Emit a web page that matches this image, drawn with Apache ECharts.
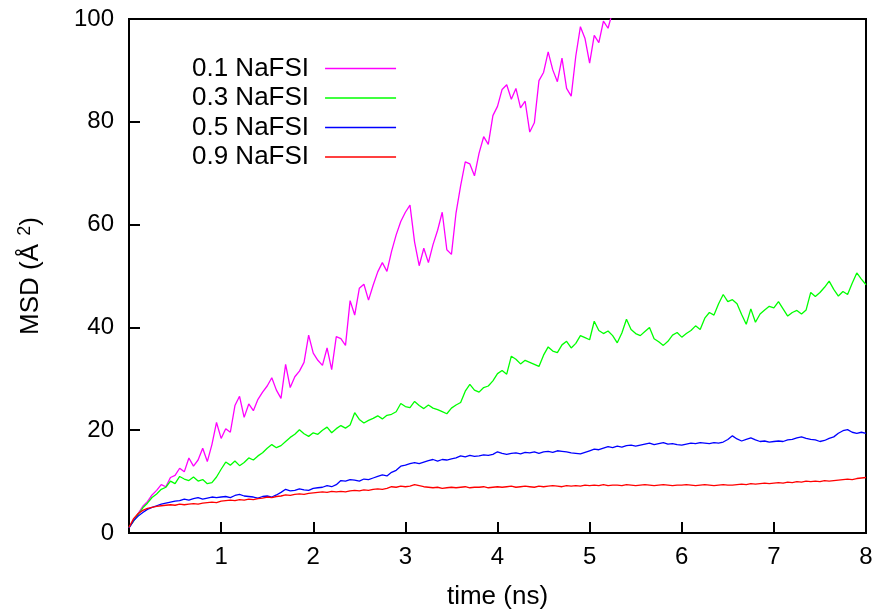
<!DOCTYPE html>
<html>
<head>
<meta charset="utf-8">
<script src="https://cdn.jsdelivr.net/npm/echarts@6/dist/echarts.min.js"></script>
<style>
  html, body { margin: 0; padding: 0; background: #fff; }
  #chart { width: 877px; height: 612px; }
</style>
</head>
<body>
<div id="chart"></div>
<script>
// time samples (ns), one row per ns
const times = [
  0, 0.05, 0.1, 0.15, 0.2, 0.25, 0.3, 0.35, 0.4, 0.45, 0.5, 0.55, 0.6, 0.65, 0.7, 0.75, 0.8, 0.85, 0.9, 0.95,
  1, 1.05, 1.1, 1.15, 1.2, 1.25, 1.3, 1.35, 1.4, 1.45, 1.5, 1.55, 1.6, 1.65, 1.7, 1.75, 1.8, 1.85, 1.9, 1.95,
  2, 2.05, 2.1, 2.15, 2.2, 2.25, 2.3, 2.35, 2.4, 2.45, 2.5, 2.55, 2.6, 2.65, 2.7, 2.75, 2.8, 2.85, 2.9, 2.95,
  3, 3.05, 3.1, 3.15, 3.2, 3.25, 3.3, 3.35, 3.4, 3.45, 3.5, 3.55, 3.6, 3.65, 3.7, 3.75, 3.8, 3.85, 3.9, 3.95,
  4, 4.05, 4.1, 4.15, 4.2, 4.25, 4.3, 4.35, 4.4, 4.45, 4.5, 4.55, 4.6, 4.65, 4.7, 4.75, 4.8, 4.85, 4.9, 4.95,
  5, 5.05, 5.1, 5.15, 5.2, 5.25, 5.3, 5.35, 5.4, 5.45, 5.5, 5.55, 5.6, 5.65, 5.7, 5.75, 5.8, 5.85, 5.9, 5.95,
  6, 6.05, 6.1, 6.15, 6.2, 6.25, 6.3, 6.35, 6.4, 6.45, 6.5, 6.55, 6.6, 6.65, 6.7, 6.75, 6.8, 6.85, 6.9, 6.95,
  7, 7.05, 7.1, 7.15, 7.2, 7.25, 7.3, 7.35, 7.4, 7.45, 7.5, 7.55, 7.6, 7.65, 7.7, 7.75, 7.8, 7.85, 7.9, 7.95,
  8
];

// MSD (A^2)
const msd01 = [
  1.0, 2.4, 3.8, 5.2, 6.1, 7.4, 8.3, 9.4, 9.0, 10.8, 11.2, 12.6, 11.9, 14.6, 13.0, 14.2, 16.5, 13.9, 17.2, 21.5,
  18.4, 20.3, 19.6, 24.8, 26.6, 22.5, 25.1, 23.8, 26.0, 27.4, 28.6, 30.2, 27.8, 26.2, 32.8, 28.3, 30.4, 31.5, 33.2, 38.5,
  35.0, 33.6, 32.6, 36.0, 31.8, 38.2, 37.8, 36.5, 45.2, 42.4, 47.6, 48.4, 45.3, 48.2, 50.8, 52.6, 50.9, 54.8, 58.0, 60.6,
  62.4, 63.8, 56.6, 52.0, 55.4, 52.6, 56.1, 58.9, 62.4, 55.1, 54.2, 62.3, 67.6, 72.2, 71.8, 69.5, 73.9, 77.1, 75.6, 81.2,
  83.0, 86.3, 87.2, 84.4, 86.5, 82.7, 84.0, 78.0, 79.8, 88.0, 89.6, 93.6, 90.1, 87.8, 92.4, 86.5, 85.0, 92.8, 98.5, 96.2,
  91.4, 96.8, 95.4, 99.6, 98.2, 101.5, 103.4, 106.0
];
const msd03 = [
  1.1, 2.3, 3.6, 4.9, 5.8, 6.9, 7.6, 8.5, 8.9, 10.1, 9.6, 11.0, 10.5, 10.2, 10.9, 10.1, 10.4, 9.6, 9.8, 10.9,
  12.4, 13.8, 13.2, 14.0, 13.1, 13.7, 14.6, 14.2, 15.0, 15.6, 16.5, 17.2, 16.6, 17.0, 17.8, 18.6, 19.2, 20.1, 19.3, 18.8,
  19.5, 19.2, 20.0, 20.6, 19.5, 20.3, 20.9, 20.4, 21.0, 23.4, 22.1, 21.4, 21.9, 22.3, 22.8, 22.2, 22.9, 23.1, 23.6, 25.2,
  24.6, 24.4, 25.6, 24.8, 24.2, 24.9, 24.3, 24.0, 23.6, 23.2, 24.3, 24.9, 25.4, 27.6, 28.9, 27.8, 27.4, 28.3, 28.6, 29.6,
  31.0, 31.6, 30.9, 34.4, 33.8, 32.9, 33.6, 33.2, 32.8, 32.4, 34.6, 36.2, 35.4, 35.1, 36.6, 37.3, 36.0, 36.9, 38.4, 38.0,
  37.6, 41.2, 39.4, 38.8, 39.3, 38.4, 37.0, 38.9, 41.6, 39.6, 38.8, 38.4, 39.2, 40.0, 37.8, 37.2, 36.5, 37.3, 38.5, 39.0,
  38.1, 38.8, 39.4, 40.3, 39.6, 41.8, 42.9, 42.4, 44.6, 46.4, 45.0, 45.4, 44.6, 42.5, 40.6, 43.6, 41.0, 42.6, 43.4, 44.1,
  43.8, 45.0, 43.6, 42.2, 42.9, 43.3, 42.6, 43.4, 46.8, 46.0, 46.8, 47.8, 49.0, 47.4, 46.1, 47.0, 46.4, 48.6, 50.6, 49.4,
  48.3
];
const msd05 = [
  1.0, 2.4, 3.3, 4.0, 4.6, 5.0, 5.3, 5.6, 5.8, 6.0, 6.2, 6.3, 6.6, 6.4, 6.7, 6.9, 6.6, 6.8, 7.0, 6.9,
  7.0, 7.1, 6.9, 7.3, 7.5, 7.2, 7.1, 7.0, 6.8, 7.1, 7.2, 7.0, 7.4, 7.9, 8.5, 8.2, 8.3, 8.6, 8.4, 8.3,
  8.7, 8.8, 8.9, 9.2, 9.0, 9.4, 10.2, 10.1, 10.4, 10.3, 10.1, 10.5, 10.4, 10.7, 11.0, 11.3, 11.1, 11.8, 12.2, 13.0,
  13.2, 13.5, 13.7, 13.5, 13.8, 14.1, 14.3, 14.0, 14.3, 14.2, 14.4, 14.6, 15.0, 14.8, 15.1, 14.9, 15.0, 15.2, 15.1, 15.3,
  15.8, 15.5, 15.3, 15.5, 15.6, 15.4, 15.7, 15.6, 15.8, 15.5, 15.8, 15.9, 15.7, 16.0, 15.9, 15.8, 15.6, 15.5, 15.4, 15.7,
  16.0, 16.3, 16.2, 16.5, 16.8, 16.6, 16.9, 16.7, 17.0, 17.1, 16.9, 17.1, 17.3, 17.5, 17.2, 17.4, 17.6, 17.3, 17.4, 17.2,
  17.1, 17.3, 17.5, 17.4, 17.6, 17.5, 17.4, 17.6, 17.5, 17.7, 18.2, 18.9, 18.3, 17.9, 18.2, 18.5, 18.1, 17.8, 17.9, 17.7,
  17.8, 17.9, 17.8, 18.1, 18.2, 18.5, 18.7, 18.4, 18.2, 18.1, 17.8, 18.0, 18.4, 18.7, 19.4, 19.9, 20.1, 19.6, 19.4, 19.6,
  19.4
];
const msd09 = [
  1.1, 2.8, 3.8, 4.4, 4.8, 5.0, 5.2, 5.3, 5.4, 5.5, 5.4, 5.6, 5.5, 5.6, 5.7, 5.6, 5.8, 5.9, 6.0, 5.9,
  6.2, 6.3, 6.4, 6.3, 6.5, 6.4, 6.6, 6.5, 6.7, 6.8, 7.0, 6.9, 7.1, 7.2, 7.4, 7.3, 7.5, 7.6, 7.5, 7.7,
  7.8, 7.9, 8.0, 7.9, 8.1, 8.0, 8.1, 8.0, 8.2, 8.3, 8.2, 8.4, 8.3, 8.5, 8.6, 8.5, 8.7, 9.0, 8.9, 9.1,
  9.0, 9.1, 9.4, 9.2, 9.0, 8.9, 8.8, 8.9, 8.7, 8.8, 8.9, 8.8, 8.9, 9.0, 8.8, 8.9, 8.9, 9.0, 8.8, 8.9,
  9.0, 8.9, 9.0, 9.1, 8.9, 9.0, 9.1, 9.0, 8.9, 9.1, 9.0, 9.1, 9.2, 9.1, 9.0, 9.2, 9.1, 9.2, 9.1, 9.3,
  9.2, 9.3, 9.2, 9.4, 9.2, 9.3, 9.3, 9.2, 9.4, 9.3, 9.2, 9.3, 9.4, 9.3, 9.2, 9.3, 9.4, 9.3, 9.2, 9.3,
  9.3, 9.4, 9.3, 9.2, 9.3, 9.4, 9.3, 9.2, 9.3, 9.4, 9.3, 9.3, 9.4, 9.5, 9.4, 9.6, 9.5, 9.6, 9.7, 9.6,
  9.7, 9.8, 9.7, 9.9, 9.8, 10.0, 9.9, 10.1, 10.0, 10.1, 10.0, 10.2, 10.1, 10.2, 10.3, 10.4, 10.5, 10.4, 10.6, 10.7,
  10.8
];

const names = ['0.1 NaFSI', '0.3 NaFSI', '0.5 NaFSI', '0.9 NaFSI'];
const colors = ['#ff00ff', '#00ff00', '#0000ff', '#ff0000'];
const allMsd = [msd01, msd03, msd05, msd09];

function pairs(vals) {
  return vals.map((v, i) => [times[i], v]);
}

const chart = echarts.init(document.getElementById('chart'));
const font = 'Liberation Sans, Arial, sans-serif';

chart.setOption({
  animation: false,
  backgroundColor: '#fff',
  textStyle: { fontFamily: font },
  grid: {
    left: 129, right: 11, top: 19, bottom: 79,
    show: true, borderColor: '#000', borderWidth: 2,
    containLabel: false, outerBoundsMode: 'none'
  },
  // gnuplot style key: text first, plain line sample on the right
  legend: {
    data: names,
    icon: 'rect',
    orient: 'vertical',
    align: 'right',
    left: 192,
    top: 54,
    padding: 0,
    itemGap: 0.5,
    itemWidth: 71,
    itemHeight: 1.5,
    textStyle: { fontSize: 26, color: '#000', lineHeight: 29, padding: [0, 11, 0, 0] },
    selectedMode: false
  },
  xAxis: {
    type: 'value',
    min: 0, max: 8, interval: 1,
    name: 'time (ns)',
    nameLocation: 'middle',
    nameGap: 51,
    nameTextStyle: { fontSize: 26, color: '#000' },
    axisLine: { lineStyle: { color: '#000', width: 2 } },
    axisTick: { inside: true, length: 11, lineStyle: { color: '#000', width: 2 } },
    axisLabel: {
      fontSize: 24, color: '#000', margin: 12,
      formatter: v => (v === 0 ? '' : String(v))
    },
    splitLine: { show: false }
  },
  yAxis: {
    type: 'value',
    min: 0, max: 100, interval: 20,
    name: 'MSD (Å {s|2})',
    nameLocation: 'middle',
    nameGap: 83,
    nameTextStyle: {
      fontSize: 26, color: '#000',
      rich: { s: { fontSize: 18, color: '#000', verticalAlign: 'top', padding: [0, 0, 12, 1] } }
    },
    axisLine: { lineStyle: { color: '#000', width: 2 } },
    axisTick: { inside: true, length: 11, lineStyle: { color: '#000', width: 2 } },
    axisLabel: { fontSize: 24, color: '#000', margin: 15 },
    splitLine: { show: false }
  },
  series: allMsd.map((vals, k) => ({
    name: names[k],
    type: 'line',
    data: pairs(vals),
    symbol: 'none',
    showSymbol: false,
    clip: true,
    color: colors[k],
    lineStyle: { color: colors[k], width: 1.3 }
  }))
});
</script>
</body>
</html>
